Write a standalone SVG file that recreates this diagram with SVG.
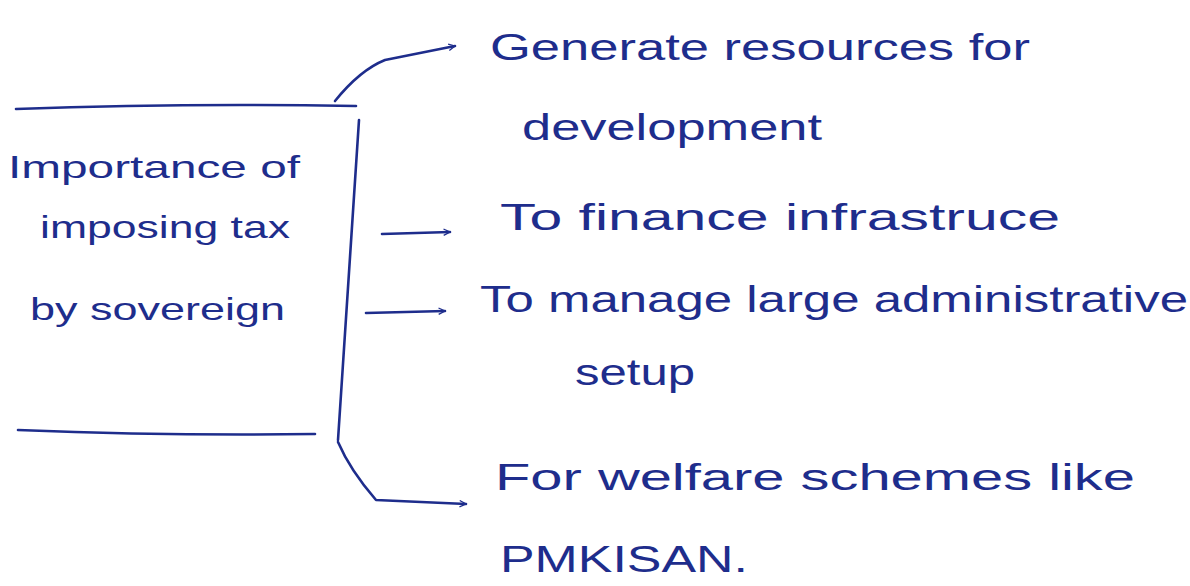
<svg xmlns="http://www.w3.org/2000/svg" width="1190" height="586" viewBox="0 0 1190 586">
<style>
.ink{fill:none;stroke:#1e2d8c;stroke-width:2.6;stroke-linecap:round;stroke-linejoin:round}
.t{font-family:"Liberation Sans",Arial,sans-serif;fill:#1e2d8c}
.big{font-size:36px}
.mid{font-size:32px}
</style>
<defs>
<marker id="ah" viewBox="0 0 10 10" refX="9" refY="5" markerWidth="8" markerHeight="8" orient="auto" markerUnits="userSpaceOnUse">
<path d="M1,1 L9,5 L1,9" fill="none" stroke="#1e2d8c" stroke-width="1.6"/>
</marker>
</defs>
<rect width="1190" height="586" fill="#ffffff"/>
<g id="topic">
<path class="ink" d="M16,109 Q180,103 356,106"/>
<path class="ink" d="M18,430 Q170,436 315,434"/>
<text class="t mid" x="8" y="178" textLength="292" lengthAdjust="spacingAndGlyphs">Importance of</text>
<text class="t mid" x="40" y="238" textLength="250" lengthAdjust="spacingAndGlyphs">imposing tax</text>
<text class="t mid" x="30" y="320" textLength="255" lengthAdjust="spacingAndGlyphs">by sovereign</text>
</g>
<g id="connectors">
<path class="ink" d="M359,120 L338,440"/>
<path class="ink" d="M335,101 Q360,70 385,60 L455,46" marker-end="url(#ah)"/>
<path class="ink" d="M382,234 L450,232" marker-end="url(#ah)"/>
<path class="ink" d="M366,313 L445,311" marker-end="url(#ah)"/>
<path class="ink" d="M338,442 Q350,470 376,500 L466,504" marker-end="url(#ah)"/>
</g>
<g id="n1">
<text class="t big" x="490" y="60" textLength="540" lengthAdjust="spacingAndGlyphs">Generate resources for</text>
<text class="t big" x="522" y="140" textLength="300" lengthAdjust="spacingAndGlyphs">development</text>
</g>
<g id="n2">
<text class="t big" x="500" y="230" textLength="560" lengthAdjust="spacingAndGlyphs">To finance infrastruce</text>
</g>
<g id="n3">
<text class="t big" x="480" y="312" textLength="708" lengthAdjust="spacingAndGlyphs">To manage large administrative</text>
<text class="t big" x="575" y="385" textLength="120" lengthAdjust="spacingAndGlyphs">setup</text>
</g>
<g id="n4">
<text class="t big" x="495" y="490" textLength="640" lengthAdjust="spacingAndGlyphs">For welfare schemes like</text>
<text class="t big" x="500" y="572" textLength="248" lengthAdjust="spacingAndGlyphs">PMKISAN.</text>
</g>
</svg>
